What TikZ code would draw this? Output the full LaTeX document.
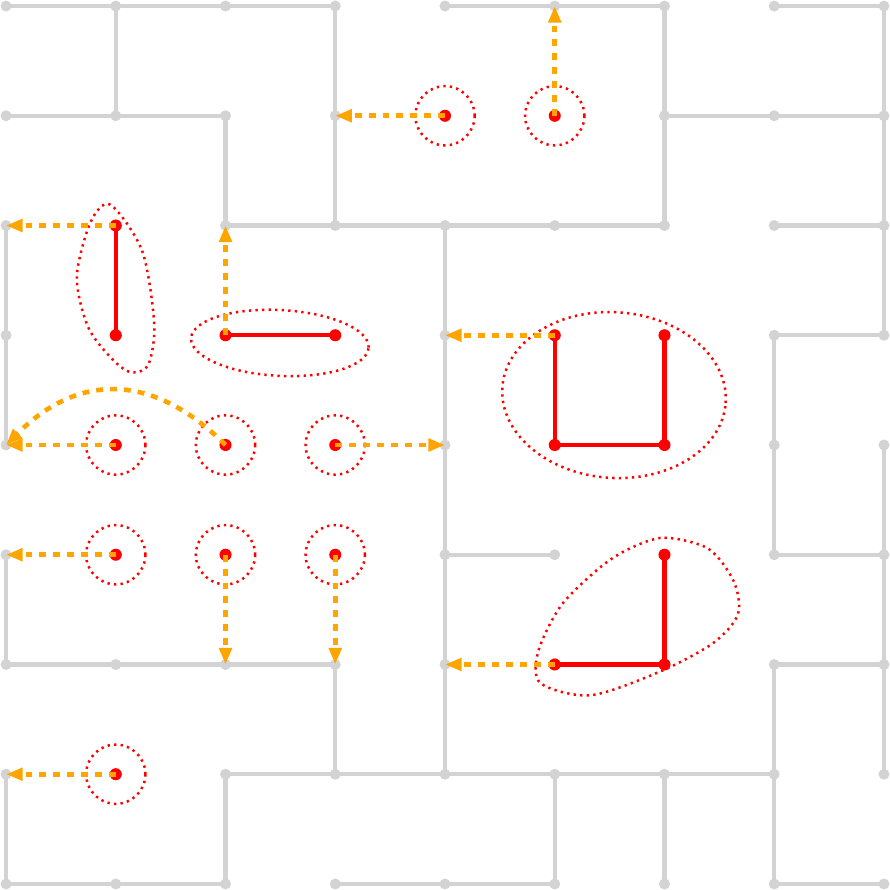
\documentclass[tikz,border=0pt]{standalone}
\usepackage{xcolor}
\usepackage{tikz}
\usetikzlibrary{arrows.meta}
\definecolor{wallgray}{HTML}{D3D3D3}
\definecolor{moveorange}{HTML}{FFA500}

\begin{document}
\begin{tikzpicture}[
    wall/.style={draw=wallgray, line width=1.1pt},
    link/.style={draw=red, line width=1.1pt},
    hull/.style={draw=red, line width=0.65pt, dash pattern=on 0.6pt off 1.1pt},
    flow/.style={draw=moveorange, line width=1.2pt, dash pattern=on 1.8pt off 1.8pt, -{Triangle[length=4.3pt,width=3.2pt]}}
]
    \useasboundingbox (-0.055,-0.055) rectangle (8.055,8.055);

    % grid points, row 0 on top
    \foreach \i in {0,...,8}
        \foreach \j in {0,...,8}
            \coordinate (v\i\j) at (\i,8-\j);

    % gray walls
    \draw[wall] (v00) -- (v10) -- (v20) -- (v30);
    \draw[wall] (v40) -- (v50) -- (v60);
    \draw[wall] (v70) -- (v80);
    \draw[wall] (v01) -- (v11) -- (v21);
    \draw[wall] (v61) -- (v71) -- (v81);
    \draw[wall] (v22) -- (v32) -- (v42) -- (v52) -- (v62);
    \draw[wall] (v72) -- (v82);
    \draw[wall] (v73) -- (v83);
    \draw[wall] (v45) -- (v55);
    \draw[wall] (v75) -- (v85);
    \draw[wall] (v06) -- (v16) -- (v26) -- (v36);
    \draw[wall] (v76) -- (v86);
    \draw[wall] (v27) -- (v37) -- (v47) -- (v57) -- (v67) -- (v77);
    \draw[wall] (v08) -- (v18) -- (v28);
    \draw[wall] (v38) -- (v48) -- (v58);
    \draw[wall] (v78) -- (v88);

    \draw[wall] (v02) -- (v03) -- (v04);
    \draw[wall] (v05) -- (v06);
    \draw[wall] (v07) -- (v08);
    \draw[wall] (v10) -- (v11);
    \draw[wall] (v21) -- (v22);
    \draw[wall] (v27) -- (v28);
    \draw[wall] (v30) -- (v31) -- (v32);
    \draw[wall] (v36) -- (v37);
    \draw[wall] (v42) -- (v43) -- (v44) -- (v45) -- (v46) -- (v47);
    \draw[wall] (v57) -- (v58);
    \draw[wall] (v60) -- (v61) -- (v62);
    \draw[wall] (v67) -- (v68);
    \draw[wall] (v73) -- (v74) -- (v75);
    \draw[wall] (v76) -- (v77) -- (v78);
    \draw[wall] (v80) -- (v81) -- (v82) -- (v83);
    \draw[wall] (v84) -- (v85) -- (v86) -- (v87);

    \foreach \i in {0,...,8}
        \foreach \j in {0,...,8}
            \fill[wallgray] (v\i\j) circle (0.05);

    % red links
    \draw[link] (v12) -- (v13);
    \draw[link] (v23) -- (v33);
    \draw[link] (v53) -- (v54) -- (v64) -- (v63);
    \draw[link] (v65) -- (v66) -- (v56);

    \foreach \p in {v41,v51,v12,v13,v23,v33,v14,v24,v34,v15,v25,v35,v53,v63,v54,v64,v65,v56,v66,v17}
        \fill[red] (\p) circle (0.055);

    % dotted hulls
    \foreach \p in {v41,v51,v14,v24,v34,v15,v25,v35,v17}
        \draw[hull] (\p) circle (0.27);
    \draw[hull] plot[smooth cycle] coordinates {(0.95,6.19) (1.24,5.77) (1.35,5.11) (1.30,4.74) (1.15,4.66) (0.98,4.77) (0.75,5.07) (0.645,5.53) (0.77,6.03)};
    \draw[hull, rotate around={-3:(2.495,4.93)}] (2.495,4.93) ellipse (0.81 and 0.30);
    \draw[hull, rotate around={-4:(5.54,4.455)}] (5.54,4.455) ellipse (1.02 and 0.755);
    \draw[hull] plot[smooth cycle] coordinates {(5.69,3.06) (6.0,3.155) (6.40,3.055) (6.63,2.76) (6.67,2.46) (6.45,2.20) (5.97,1.94) (5.33,1.72) (4.87,1.83) (4.85,2.12) (5.06,2.54) (5.42,2.89)};

    % orange moves
    \draw[flow] (v41) -- (v31);
    \draw[flow] (v51) -- (v50);
    \draw[flow] (v12) -- (v02);
    \draw[flow] (v23) -- (v22);
    \draw[flow] (v53) -- (v43);
    \draw[flow] (v24) to[bend right=45, looseness=1.2] (v04);
    \draw[flow] (v14) -- (v04);
    \draw[flow] (v34) -- (v44);
    \draw[flow] (v15) -- (v05);
    \draw[flow] (v25) -- (v26);
    \draw[flow] (v35) -- (v36);
    \draw[flow] (v56) -- (v46);
    \draw[flow] (v17) -- (v07);
\end{tikzpicture}
\end{document}
